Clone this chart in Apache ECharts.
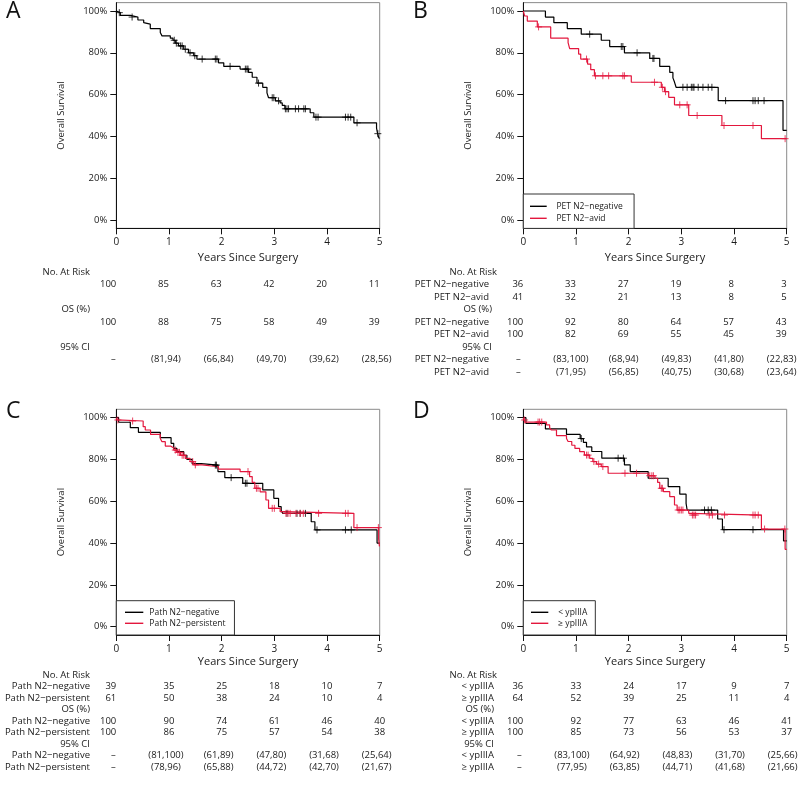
<!DOCTYPE html>
<html><head><meta charset="utf-8">
<script src="https://cdn.jsdelivr.net/npm/echarts@6/dist/echarts.min.js"></script>
<style>html,body{margin:0;padding:0;background:#fff}#c{width:800px;height:786px}</style>
</head><body><div id="c"></div>
<script>
// ---------------- data ----------------
const years = [0, 1, 2, 3, 4, 5];
const yTicks = [0, 0.2, 0.4, 0.6, 0.8, 1];
const rowKeys = ['r0','r1','r2','r3','r4','r5','r6','r7','r8'];

// Panel A: all patients
const A_surv = [[0,1],[0.03,0.992],[0.076,0.979],[0.266,0.971],[0.41,0.957],[0.52,0.944],[0.54,0.937],[0.645,0.916],[0.835,0.897],[0.867,0.881],[1.025,0.870],[1.076,0.860],[1.12,0.846],[1.18,0.833],[1.28,0.817],[1.37,0.80],[1.47,0.786],[1.53,0.77],[1.94,0.752],[2.04,0.735],[2.35,0.722],[2.51,0.706],[2.58,0.683],[2.67,0.655],[2.78,0.635],[2.86,0.608],[2.89,0.585],[3.02,0.57],[3.11,0.56],[3.15,0.548],[3.2,0.532],[3.68,0.513],[3.75,0.492],[4.51,0.465],[4.94,0.44],[4.96,0.413],[4.985,0.392],[5,0.392]];
const A_cens = [[0.057,0.992],[0.30,0.971],[1.10,0.86],[1.14,0.846],[1.22,0.833],[1.25,0.833],[1.31,0.817],[1.40,0.80],[1.49,0.786],[1.63,0.77],[1.88,0.77],[1.91,0.77],[2.16,0.735],[2.45,0.722],[2.48,0.722],[2.50,0.722],[2.70,0.655],[2.96,0.585],[2.99,0.585],[3.08,0.57],[3.21,0.532],[3.24,0.532],[3.27,0.532],[3.40,0.532],[3.46,0.532],[3.56,0.532],[3.59,0.532],[3.79,0.492],[3.83,0.492],[4.35,0.492],[4.40,0.492],[4.45,0.492],[4.57,0.465],[4.965,0.413]];
const A_risk = [100, 85, 63, 42, 20, 11];
const A_os = [100, 88, 75, 58, 49, 39];
const A_ci = ['–', '(81,94)', '(66,84)', '(49,70)', '(39,62)', '(28,56)'];

// Panel B: PET N2
const B_neg_surv = [[0,1],[0.42,0.971],[0.58,0.944],[0.835,0.916],[1.10,0.889],[1.48,0.86],[1.64,0.83],[1.92,0.80],[2.40,0.773],[2.59,0.735],[2.78,0.706],[2.84,0.68],[2.87,0.66],[2.90,0.635],[3.70,0.571],[4.93,0.429],[5,0.429]];
const B_neg_cens = [[1.26,0.889],[1.86,0.83],[1.89,0.83],[2.16,0.80],[2.46,0.773],[2.48,0.773],[3.03,0.635],[3.11,0.635],[3.19,0.635],[3.22,0.635],[3.24,0.635],[3.32,0.635],[3.41,0.635],[3.51,0.635],[3.58,0.635],[3.84,0.571],[4.36,0.571],[4.40,0.571],[4.46,0.571],[4.57,0.571]];
const B_avid_surv = [[0,1],[0.025,0.976],[0.076,0.952],[0.266,0.924],[0.52,0.87],[0.85,0.849],[0.88,0.82],[1.05,0.794],[1.09,0.77],[1.22,0.746],[1.28,0.719],[1.35,0.69],[2.05,0.659],[2.62,0.635],[2.68,0.614],[2.76,0.587],[2.87,0.551],[3.14,0.50],[3.77,0.452],[4.52,0.389],[5,0.389]];
const B_avid_cens = [[0.29,0.924],[1.20,0.77],[1.37,0.69],[1.51,0.69],[1.62,0.69],[1.89,0.69],[1.92,0.69],[2.49,0.659],[2.64,0.635],[2.70,0.614],[2.97,0.551],[3.11,0.551],[3.30,0.50],[3.81,0.452],[4.36,0.452],[4.97,0.389]];
const B_neg_risk = [36, 33, 27, 19, 8, 3];
const B_avid_risk = [41, 32, 21, 13, 8, 5];
const B_neg_os = [100, 92, 80, 64, 57, 43];
const B_avid_os = [100, 82, 69, 55, 45, 39];
const B_neg_ci = ['–', '(83,100)', '(68,94)', '(49,83)', '(41,80)', '(22,83)'];
const B_avid_ci = ['–', '(71,95)', '(56,85)', '(40,75)', '(30,68)', '(23,64)'];

// Panel C: Path N2
const C_neg_surv = [[0,1],[0.044,0.978],[0.266,0.952],[0.42,0.93],[0.835,0.904],[1.04,0.877],[1.09,0.853],[1.15,0.837],[1.28,0.82],[1.34,0.80],[1.44,0.78],[1.61,0.773],[1.93,0.742],[2.06,0.713],[2.40,0.686],[2.78,0.654],[2.99,0.614],[3.08,0.574],[3.13,0.555],[3.16,0.542],[3.70,0.502],[3.77,0.463],[4.95,0.40],[5,0.40]];
const C_neg_cens = [[1.88,0.773],[1.90,0.773],[2.18,0.713],[2.45,0.686],[2.48,0.686],[3.24,0.542],[3.43,0.542],[3.49,0.542],[3.59,0.542],[3.81,0.463],[4.35,0.463],[4.46,0.463]];
const C_pers_surv = [[0,1],[0.013,0.989],[0.05,0.984],[0.51,0.957],[0.55,0.941],[0.65,0.92],[0.835,0.90],[0.867,0.885],[0.93,0.864],[1.03,0.855],[1.09,0.845],[1.15,0.834],[1.22,0.82],[1.31,0.805],[1.40,0.79],[1.47,0.774],[1.63,0.765],[1.94,0.754],[2.35,0.742],[2.53,0.718],[2.58,0.69],[2.63,0.662],[2.73,0.645],[2.84,0.606],[2.89,0.566],[3.11,0.55],[3.18,0.542],[4.51,0.474],[4.98,0.42],[4.995,0.384],[5,0.384]];
const C_pers_cens = [[0.03,0.989],[0.31,0.984],[1.12,0.845],[1.17,0.834],[1.20,0.834],[1.25,0.82],[1.28,0.82],[1.45,0.79],[1.50,0.774],[2.50,0.742],[2.66,0.662],[2.69,0.662],[2.96,0.566],[3.00,0.566],[3.22,0.542],[3.26,0.542],[3.30,0.542],[3.41,0.542],[3.49,0.542],[3.55,0.542],[3.84,0.542],[4.35,0.542],[4.40,0.542],[4.57,0.474],[4.975,0.474]];
const C_neg_risk = [39, 35, 25, 18, 10, 7];
const C_pers_risk = [61, 50, 38, 24, 10, 4];
const C_neg_os = [100, 90, 74, 61, 46, 40];
const C_pers_os = [100, 86, 75, 57, 54, 38];
const C_neg_ci = ['–', '(81,100)', '(61,89)', '(47,80)', '(31,68)', '(25,64)'];
const C_pers_ci = ['–', '(78,96)', '(65,88)', '(44,72)', '(42,70)', '(21,67)'];

// Panel D: ypIIIA
const D_lt_surv = [[0,1],[0.05,0.972],[0.42,0.946],[0.82,0.92],[1.08,0.90],[1.14,0.882],[1.20,0.86],[1.30,0.838],[1.49,0.806],[1.92,0.774],[2.03,0.742],[2.37,0.71],[2.75,0.67],[2.97,0.634],[3.09,0.59],[3.11,0.558],[3.69,0.515],[3.78,0.464],[4.94,0.41],[5,0.41]];
const D_lt_cens = [[1.10,0.90],[1.80,0.806],[1.90,0.806],[3.44,0.558],[3.51,0.558],[3.57,0.558],[3.81,0.464],[4.36,0.464]];
const D_ge_surv = [[0,1],[0.013,0.989],[0.038,0.979],[0.44,0.965],[0.50,0.952],[0.53,0.941],[0.63,0.914],[0.82,0.90],[0.85,0.886],[0.92,0.868],[0.98,0.853],[1.07,0.837],[1.16,0.821],[1.26,0.805],[1.32,0.79],[1.39,0.778],[1.48,0.766],[1.61,0.734],[2.37,0.722],[2.50,0.71],[2.55,0.69],[2.59,0.662],[2.66,0.646],[2.78,0.622],[2.87,0.582],[2.92,0.558],[3.14,0.542],[3.18,0.534],[4.52,0.467],[4.97,0.37],[5,0.37]];
const D_ge_cens = [[0.025,0.989],[0.28,0.979],[0.31,0.979],[0.35,0.979],[1.20,0.821],[1.23,0.821],[1.34,0.79],[1.43,0.778],[1.51,0.766],[1.93,0.734],[2.15,0.734],[2.40,0.722],[2.44,0.722],[2.47,0.722],[2.62,0.662],[2.64,0.662],[2.94,0.558],[2.97,0.558],[3.00,0.558],[3.03,0.558],[3.21,0.534],[3.24,0.534],[3.27,0.534],[3.53,0.534],[3.59,0.534],[3.82,0.534],[4.36,0.534],[4.40,0.534],[4.46,0.534],[4.58,0.467],[4.965,0.467]];
const D_lt_risk = [36, 33, 24, 17, 9, 7];
const D_ge_risk = [64, 52, 39, 25, 11, 4];
const D_lt_os = [100, 92, 77, 63, 46, 41];
const D_ge_os = [100, 85, 73, 56, 53, 37];
const D_lt_ci = ['–', '(83,100)', '(64,92)', '(48,83)', '(31,70)', '(25,66)'];
const D_ge_ci = ['–', '(77,95)', '(63,85)', '(44,71)', '(41,68)', '(21,66)'];

// ---------------- styling / layout ----------------
const FONT = 'Open Sans';
const TXT = '#1a1a1a';
const BLACK = '#000000';
const RED = '#e3173d';
const W = 263.4, PH = 225.7;

const panels = [
  { letter: 'A', left: 116.3, top: 2.64, lx: 6, ly: 0, tTop: 265.75, tH: 112.5, nameGap: 24, ciDx: -3, firstOnlyRight: false,
    headPad: [0, 0, 0], groupPad: 0,
    groups: [{ label: '', color: BLACK, surv: A_surv, cens: A_cens, risk: A_risk, os: A_os, ci: A_ci, name: 'All' }],
    legend: null },
  { letter: 'B', left: 523.3, top: 2.64, lx: 413, ly: 0, tTop: 265.75, tH: 112.5, nameGap: 24, ciDx: -5, firstOnlyRight: false,
    headPad: [0, 5, 6], groupPad: 8,
    groups: [
      { label: 'PET N2−negative', color: BLACK, surv: B_neg_surv, cens: B_neg_cens, risk: B_neg_risk, os: B_neg_os, ci: B_neg_ci },
      { label: 'PET N2−avid', color: RED, surv: B_avid_surv, cens: B_avid_cens, risk: B_avid_risk, os: B_avid_os, ci: B_avid_ci }],
    legend: { left: 523.3, top: 194, lineH: 12, iw: 16.7, pad: [6.3, 11.3, 4.1, 6.7], tpad: 4.7 } },
  { letter: 'C', left: 116.3, top: 409.3, lx: 6, ly: 400, tTop: 669.25, tH: 103.5, nameGap: 21, ciDx: -3, firstOnlyRight: true,
    headPad: [0, 0, 0], groupPad: 0,
    groups: [
      { label: 'Path N2−negative', color: BLACK, surv: C_neg_surv, cens: C_neg_cens, risk: C_neg_risk, os: C_neg_os, ci: C_neg_ci },
      { label: 'Path N2−persistent', color: RED, surv: C_pers_surv, cens: C_pers_cens, risk: C_pers_risk, os: C_pers_os, ci: C_pers_ci }],
    legend: { left: 116.3, top: 600.7, lineH: 11, iw: 18.3, pad: [6.1, 9, 6.2, 8.7], tpad: 1 } },
  { letter: 'D', left: 523.3, top: 409.3, lx: 413, ly: 400, tTop: 669.25, tH: 103.5, nameGap: 21, ciDx: -4, firstOnlyRight: true,
    headPad: [0, 3, 3], groupPad: 3,
    groups: [
      { label: '< ypIIIA', color: BLACK, surv: D_lt_surv, cens: D_lt_cens, risk: D_lt_risk, os: D_lt_os, ci: D_lt_ci },
      { label: '≥ ypIIIA', color: RED, surv: D_ge_surv, cens: D_ge_cens, risk: D_ge_risk, os: D_ge_os, ci: D_ge_ci }],
    legend: { left: 523.3, top: 600.7, lineH: 11, iw: 17.3, pad: [6.1, 8, 6.2, 7.7], tpad: 5 } }
];

const grids = [], xAxes = [], yAxes = [], series = [], legends = [], titles = [];

panels.forEach((p, i) => {
  const gi = 2 * i;      // plot grid / axes index
  const ti = 2 * i + 1;  // table grid / axes index

  titles.push({ text: p.letter, left: p.lx, top: p.ly, padding: 0,
    textStyle: { fontSize: 23, fontWeight: 'normal', color: '#111', fontFamily: FONT } });

  // ---- plot ----
  grids.push({ left: p.left, top: p.top, width: W, height: PH, show: true, borderColor: '#8a8a8a', borderWidth: 1 });
  xAxes.push({ gridIndex: gi, type: 'value', min: 0, max: 5, interval: 1,
    axisLine: { onZero: false, lineStyle: { color: '#111', width: 1 } },
    axisTick: { length: 6, lineStyle: { color: '#111' } },
    axisLabel: { margin: 9, fontSize: 10, color: TXT, fontFamily: FONT },
    splitLine: { show: false },
    name: 'Years Since Surgery', nameLocation: 'middle', nameGap: p.nameGap,
    nameTextStyle: { fontSize: 11, color: TXT, fontFamily: FONT } });
  yAxes.push({ gridIndex: gi, type: 'value', min: -0.04, max: 1.04,
    axisLine: { show: true, onZero: false, lineStyle: { color: '#111', width: 1 } },
    axisTick: { show: true, length: 6, customValues: yTicks, lineStyle: { color: '#111' } },
    axisLabel: { customValues: yTicks, formatter: v => Math.round(v * 100) + '%', margin: 9, fontSize: 9.5, color: TXT, fontFamily: FONT },
    splitLine: { show: false },
    name: 'Overall Survival', nameLocation: 'middle', nameGap: 50, nameRotate: 90,
    nameTextStyle: { fontSize: 9.5, color: TXT, fontFamily: FONT } });

  p.groups.forEach(g => {
    series.push({ type: 'line', name: g.label || 'All patients', xAxisIndex: gi, yAxisIndex: gi, step: 'end',
      data: g.surv, showSymbol: false, symbol: 'none', color: g.color,
      lineStyle: { color: g.color, width: 1.2 }, silent: true, z: 3 });
    series.push({ type: 'scatter', name: (g.label || 'All') + ' censored', xAxisIndex: gi, yAxisIndex: gi,
      data: g.cens, symbol: 'path://M5,0L5,10M0,5L10,5', symbolSize: 7,
      itemStyle: { color: 'none', borderColor: g.color, borderWidth: 1 }, silent: true, z: 4 });
  });

  if (p.legend) {
    const L = p.legend;
    legends.push({ data: p.groups.map(g => g.label), orient: 'vertical', left: L.left, top: L.top,
      icon: 'rect', itemWidth: L.iw, itemHeight: 1.4, itemGap: 0, padding: L.pad,
      borderColor: '#333', borderWidth: 1, backgroundColor: '#fff', selectedMode: false,
      textStyle: { fontSize: 8.5, lineHeight: L.lineH, color: TXT, fontFamily: FONT, padding: [0, 0, 0, L.tpad] } });
  }

  // ---- risk table ----
  const rowLabels = ['No. At Risk', '', '', 'OS (%)', '', '', '95% CI', '', ''];
  p.groups.forEach((g, k) => { rowLabels[1 + k] = g.label; rowLabels[4 + k] = g.label; rowLabels[7 + k] = g.label; });
  grids.push({ left: p.left, top: p.tTop, width: W, height: p.tH, show: false });
  xAxes.push({ gridIndex: ti, type: 'value', min: 0, max: 5, show: false });
  yAxes.push({ gridIndex: ti, type: 'category', inverse: true, data: rowKeys,
    axisLine: { show: false }, axisTick: { show: false }, splitLine: { show: false },
    axisLabel: { interval: 0, margin: 26.3, fontSize: 9.5, color: TXT, fontFamily: FONT,
      formatter: (v, idx) => {
        const t = rowLabels[idx];
        if (!t) return '';
        if (idx === 0) return '{h0|' + t + '}';
        if (idx === 3 || idx === 6) return '{h|' + t + '}';
        return '{g|' + t + '}';
      },
      rich: {
        h0: { fontSize: 9.5, fontFamily: FONT, color: TXT, padding: [0, p.headPad[0], 0, 0] },
        h: { fontSize: 9.5, fontFamily: FONT, color: TXT, padding: [0, p.headPad[1], 0, 0] },
        g: { fontSize: 9.5, fontFamily: FONT, color: TXT, padding: [0, p.groupPad, 0, 0] }
      } } });
  const cells = [];
  p.groups.forEach((g, k) => {
    years.forEach((yr, c) => {
      const numAlign = (p.firstOnlyRight && c > 0) ? 'center' : 'right';
      cells.push([yr, 1 + k, String(g.risk[c]), numAlign, 0]);
      cells.push([yr, 4 + k, String(g.os[c]), numAlign, 0]);
      cells.push([yr, 7 + k, g.ci[c], 'center', p.ciDx]);
    });
  });
  series.push({ type: 'custom', name: 'table' + p.letter, xAxisIndex: ti, yAxisIndex: ti, clip: false, silent: true,
    data: cells.map(c => [c[0], c[1]]),
    encode: { x: 0, y: 1 },
    renderItem: (params, api) => {
      const pt = api.coord([api.value(0), api.value(1)]);
      const d = cells[params.dataIndex];
      return { type: 'text', x: pt[0] + d[4], y: pt[1],
        style: { text: d[2], align: d[3], verticalAlign: 'middle', fontSize: 9.5, fontFamily: FONT, fill: TXT } };
    } });
});

const chart = echarts.init(document.getElementById('c'), null, { renderer: 'canvas' });
chart.setOption({
  animation: false,
  backgroundColor: '#fff',
  textStyle: { fontFamily: FONT },
  title: titles,
  legend: legends,
  grid: grids,
  xAxis: xAxes,
  yAxis: yAxes,
  series: series
});
</script></body></html>
